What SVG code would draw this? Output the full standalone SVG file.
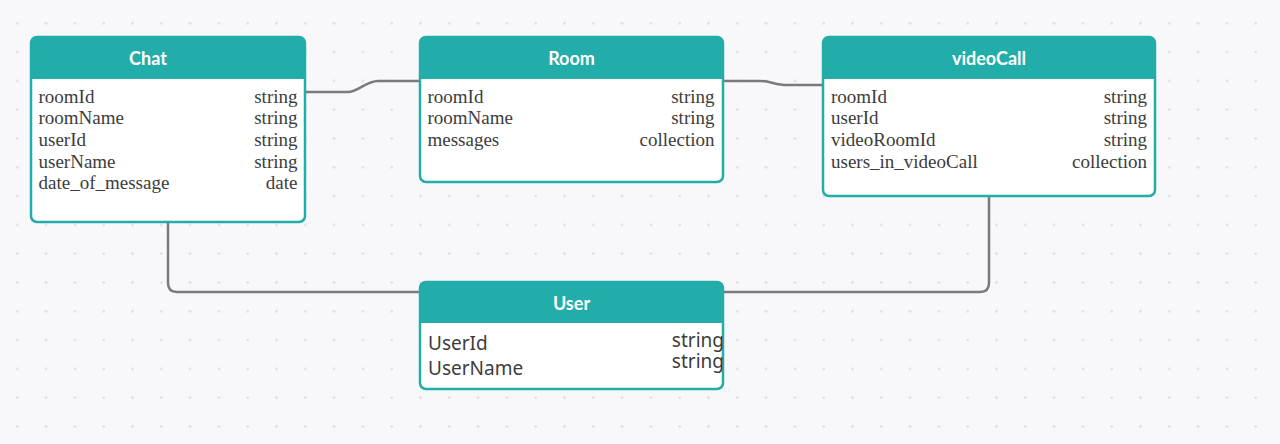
<svg xmlns="http://www.w3.org/2000/svg" width="1280" height="444" viewBox="0 0 1280 444">
  <style>
    .box { fill: #ffffff; stroke: #22adaa; stroke-width: 2.5; }
    .hdr { fill: #22adaa; }
    .title { font-family: Lato, "Open Sans", sans-serif; font-weight: 700; font-size: 18px; fill: #ffffff; text-anchor: middle; }
    .f { font-family: "Liberation Serif", "Times New Roman", serif; font-size: 19px; fill: #3c3c3c; }
    .r { text-anchor: end; }
    .s { font-family: "Noto Sans", "Open Sans", sans-serif; font-size: 19px; fill: #3c3c3c; }
    .conn { fill: none; stroke: #7a7a7c; stroke-width: 2.5; }
  </style>
  <defs>
    <pattern id="dots" patternUnits="userSpaceOnUse" x="2.9" y="8.9" width="28.8" height="28.8">
      <circle cx="14.4" cy="14.4" r="1.3" fill="#dcdce0"/>
    </pattern>
  </defs>
  <rect x="0" y="0" width="1280" height="444" fill="#f8f8fa"/>
  <rect x="0" y="0" width="1280" height="444" fill="url(#dots)"/>

  <g id="connectors">
    <path class="conn" d="M305,92 H348 C358,92 366,81 378,81 H420"/>
    <path class="conn" d="M723,81 H760 C770,81 776,85 787,85 H823"/>
    <path class="conn" d="M168,222 V283 Q168,292 177,292 H420"/>
    <path class="conn" d="M989,196 V283 Q989,292 980,292 H723"/>
  </g>

  <g id="chat">
    <rect class="box" x="31" y="37" width="274" height="185" rx="6"/>
    <path class="hdr" d="M31,79 V43 Q31,37 37,37 H299 Q305,37 305,43 V79 Z"/>
    <text class="title" x="148" y="65">Chat</text>
    <text class="f" x="38.5" y="102.7">roomId</text>
    <text class="f r" x="297.5" y="102.7">string</text>
    <text class="f" x="38.5" y="124.3">roomName</text>
    <text class="f r" x="297.5" y="124.3">string</text>
    <text class="f" x="38.5" y="145.9">userId</text>
    <text class="f r" x="297.5" y="145.9">string</text>
    <text class="f" x="38.5" y="167.5">userName</text>
    <text class="f r" x="297.5" y="167.5">string</text>
    <text class="f" x="38.5" y="189.1">date_of_message</text>
    <text class="f r" x="297.5" y="189.1">date</text>
  </g>

  <g id="room">
    <rect class="box" x="420" y="37" width="303" height="145" rx="6"/>
    <path class="hdr" d="M420,79 V43 Q420,37 426,37 H717 Q723,37 723,43 V79 Z"/>
    <text class="title" x="571.5" y="65">Room</text>
    <text class="f" x="427.5" y="102.7">roomId</text>
    <text class="f r" x="714.5" y="102.7">string</text>
    <text class="f" x="427.5" y="124.3">roomName</text>
    <text class="f r" x="714.5" y="124.3">string</text>
    <text class="f" x="427.5" y="145.9">messages</text>
    <text class="f r" x="714.5" y="145.9">collection</text>
  </g>

  <g id="videoCall">
    <rect class="box" x="823" y="37" width="332" height="159" rx="6"/>
    <path class="hdr" d="M823,79 V43 Q823,37 829,37 H1149 Q1155,37 1155,43 V79 Z"/>
    <text class="title" x="989" y="65">videoCall</text>
    <text class="f" x="831" y="102.7">roomId</text>
    <text class="f r" x="1147" y="102.7">string</text>
    <text class="f" x="831" y="124.3">userId</text>
    <text class="f r" x="1147" y="124.3">string</text>
    <text class="f" x="831" y="145.9">videoRoomId</text>
    <text class="f r" x="1147" y="145.9">string</text>
    <text class="f" x="831" y="167.5">users_in_videoCall</text>
    <text class="f r" x="1147" y="167.5">collection</text>
  </g>

  <g id="user">
    <rect class="box" x="420" y="282" width="303" height="107" rx="6"/>
    <path class="hdr" d="M420,323 V288 Q420,282 426,282 H717 Q723,282 723,288 V323 Z"/>
    <text class="title" x="571.5" y="310">User</text>
    <text class="s" x="428" y="350">UserId</text>
    <text class="s" x="428" y="375">UserName</text>
    <text class="s r" x="724" y="347">string</text>
    <text class="s r" x="724" y="368">string</text>
  </g>
</svg>
